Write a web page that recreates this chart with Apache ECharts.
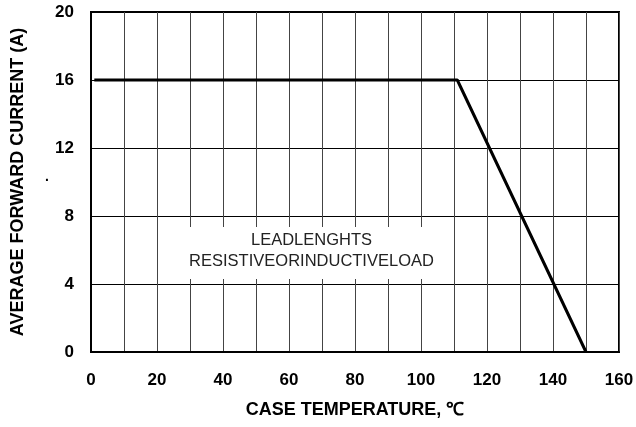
<!DOCTYPE html>
<html><head><meta charset="utf-8">
<script src="https://cdn.jsdelivr.net/npm/echarts@6/dist/echarts.min.js"></script>
<style>html,body{margin:0;padding:0;background:#fff}#c{width:636px;height:427px}</style>
</head><body><div id="c"></div>
<script>
var curveX = [1, 111, 150];
var curveY = [16, 16, 0];
var xTickLabels = ['0','20','40','60','80','100','120','140','160'];
var noteLines = ['LEADLENGHTS', 'RESISTIVEORINDUCTIVELOAD'];
var noteBox = [[20.5, 7.35], [109.5, 4.3]];

var chart = echarts.init(document.getElementById('c'));
var font = 'Liberation Sans, Arial, sans-serif';
chart.setOption({
  animation: false,
  backgroundColor: '#fff',
  grid: {left: 91, right: 17, top: 12, bottom: 75, outerBoundsMode: 'none', containLabel: false,
    show: true, borderColor: '#000', borderWidth: 2, backgroundColor: 'transparent'},
  xAxis: {
    type: 'value', min: 0, max: 160, interval: 10,
    name: 'CASE TEMPERATURE, \u2103', nameLocation: 'middle', nameGap: 49,
    nameTextStyle: {fontFamily: font, fontWeight: 'bold', fontSize: 18, color: '#000'},
    axisLine: {show: true, lineStyle: {color: '#000', width: 2}},
    axisTick: {show: false},
    axisLabel: {margin: 20, fontFamily: font, fontWeight: 'bold', fontSize: 17, color: '#000',
      formatter: function (v) { return v % 20 === 0 ? xTickLabels[v / 20] : ''; }},
    splitLine: {show: true, lineStyle: {color: '#444', width: 1}}
  },
  yAxis: {
    type: 'value', min: 0, max: 20, interval: 4,
    name: 'AVERAGE FORWARD CURRENT (A)', nameLocation: 'middle', nameGap: 64, nameRotate: 90,
    nameTextStyle: {fontFamily: font, fontWeight: 'bold', fontSize: 18, color: '#000'},
    axisLine: {show: true, lineStyle: {color: '#000', width: 2}},
    axisTick: {show: false},
    axisLabel: {margin: 17, fontFamily: font, fontWeight: 'bold', fontSize: 17, color: '#000'},
    splitLine: {show: true, lineStyle: {color: '#000', width: 1}}
  },
  graphic: [{type: 'text', left: 45, top: 170, style: {text: '.', font: 'bold 14px ' + font, fill: '#000'}}],
  series: [{
    type: 'line', symbol: 'none',
    data: curveX.map(function (x, i) { return [x, curveY[i]]; }),
    lineStyle: {color: '#000', width: 3},
    markArea: {
      silent: true,
      itemStyle: {color: '#fff'},
      label: {show: true, position: 'inside', offset: [6, -2], fontFamily: font, fontSize: 16.5, color: '#222', lineHeight: 21, align: 'center'},
      data: [[{coord: noteBox[0], name: noteLines.join('\n')}, {coord: noteBox[1]}]]
    },
    z: 3
  }]
});
</script></body></html>
